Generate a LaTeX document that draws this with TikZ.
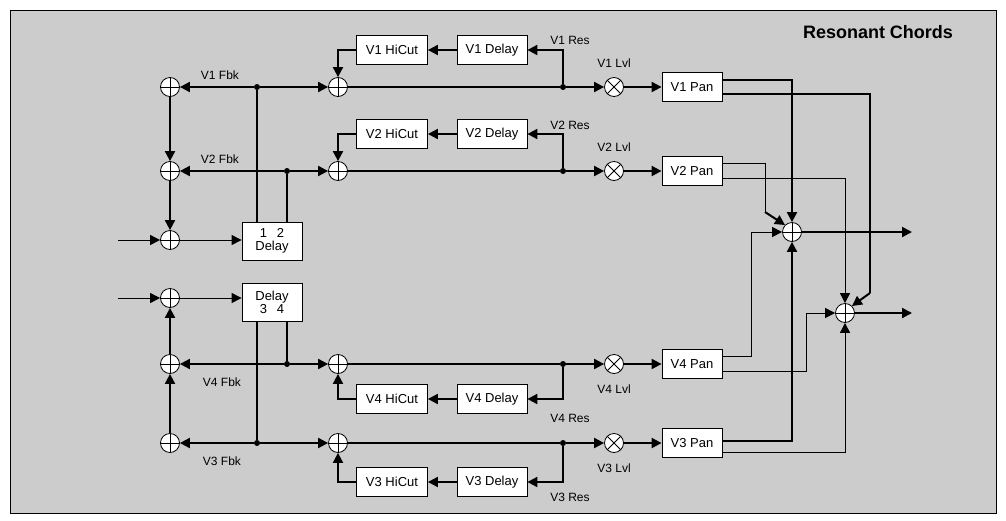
\documentclass[tikz,border=0pt]{standalone}
\usepackage{fontspec}
\setmainfont{Liberation Sans}
\usetikzlibrary{arrows.meta,shapes.misc}
\begin{document}
\begin{tikzpicture}[x=1pt,y=-1pt,
  every node/.style={font=\fontsize{13}{13}\selectfont},
  box/.style={draw,thick,fill=white,minimum height=29pt,inner sep=1pt},
  sum/.style={circle,draw,thick,fill=white,minimum size=19pt,inner sep=0pt,path picture={
     \draw[thick] (path picture bounding box.north) -- (path picture bounding box.south)
                  (path picture bounding box.west) -- (path picture bounding box.east);}},
  mul/.style={circle,draw,thick,fill=white,minimum size=19pt,inner sep=0pt,path picture={
     \draw[thick] (path picture bounding box.north west) -- (path picture bounding box.south east)
                  (path picture bounding box.south west) -- (path picture bounding box.north east);}},
  dot/.style={circle,fill,inner sep=0pt,minimum size=6pt},
  w/.style={line width=2pt},
  thin/.style={line width=1pt},
  ar/.style={-{Triangle[length=10pt,width=10pt]}},
  lbl/.style={inner sep=1pt,font=\fontsize{12}{12}\selectfont}]
\useasboundingbox (0,0) rectangle (1006,520);
\fill[white] (0,0) rectangle (1006,520);
\draw[fill=black!20,thick] (10,10) rectangle (996,513);
\node[font=\bfseries\fontsize{18}{18}\selectfont] at (878,32) {Resonant Chords};

% left sums
\node[sum] (L1) at (170,87) {};
\node[sum] (L2) at (170,171) {};
\node[sum] (L3) at (170,240) {};
\node[sum] (L4) at (170,298) {};
\node[sum] (L5) at (170,364) {};
\node[sum] (L6) at (170,443) {};
\coordinate (in1) at (118,240);
\coordinate (in2) at (118,298);
\draw[thin,ar] (in1) -- (L3);
\draw[thin,ar] (in2) -- (L4);
\draw[w,ar] (L1) -- (L2);
\draw[w,ar] (L2) -- (L3);
\draw[w,ar] (L6) -- (L5);
\draw[w,ar] (L5) -- (L4);

% delay boxes
\node[box,minimum width=60pt,minimum height=38pt,align=center,font=\fontsize{13}{13}\selectfont] (D12) at (272,241) {1\hspace{10pt}2\\Delay};
\node[box,minimum width=60pt,minimum height=38pt,align=center,font=\fontsize{13}{13}\selectfont] (D34) at (272,302) {Delay\\3\hspace{10pt}4};
\draw[thin,ar] (L3) -- (L3 -| D12.west);
\draw[thin,ar] (L4) -- (L4 -| D34.west);

% junctions
\node[dot] (j1) at (257,87) {};
\node[dot] (j2) at (287,171) {};
\node[dot] (j4) at (287,364) {};
\node[dot] (j3) at (257,443) {};
\draw[w] (j1) -- (j1 |- D12.north);
\draw[w] (j2) -- (j2 |- D12.north);
\draw[w] (j4) -- (j4 |- D34.south);
\draw[w] (j3) -- (j3 |- D34.south);
\draw[w,ar] (j1) -- (L1);
\draw[w,ar] (j2) -- (L2);
\draw[w,ar] (j4) -- (L5);
\draw[w,ar] (j3) -- (L6);
\node[lbl] at (220,75) {V1 Fbk};
\node[lbl] at (220,159) {V2 Fbk};
\node[lbl] at (222,382) {V4 Fbk};
\node[lbl] at (222,461) {V3 Fbk};

% voice rows
\foreach \v/\y/\dy/\ry/\lv in {1/87/-37/40/63, 2/171/-37/125/147, 4/364/35/418/389, 3/443/39/497/468}{
  \node[sum] (S\v) at (338,\y) {};
  \node[box,minimum width=71pt] (H\v) at (392,\y+\dy) {V\v\ HiCut};
  \node[box,minimum width=70pt] (Dl\v) at (492,\y+\dy) {V\v\ Delay};
  \node[dot] (t\v) at (563,\y) {};
  \node[mul] (M\v) at (614,\y) {};
  \node[box,minimum width=60pt] (P\v) at (692,\y) {V\v\ Pan};
  \draw[w,ar] (j\v) -- (S\v);
  \draw[w] (S\v) -- (t\v);
  \draw[w,ar] (t\v) -- (M\v);
  \draw[w,ar] (M\v) -- (P\v);
  \draw[w,ar] (t\v) |- (Dl\v);
  \draw[w,ar] (Dl\v) -- (H\v);
  \draw[w,ar] (H\v) -| (S\v);
  \node[lbl] at (570,\ry) {V\v\ Res};
  \node[lbl] at (614,\lv) {V\v\ Lvl};
}

% output sums
\node[sum] (A) at (792,232) {};
\node[sum] (B) at (845,313) {};
\coordinate (oA) at (912,232);
\coordinate (oB) at (912,313);
\draw[w,ar] (A) -- (oA);
\draw[w,ar] (B) -- (oB);

\draw[w,ar] ([yshift=7pt]P1.east) -| (A.north);
\draw[w] ([yshift=-7pt]P1.east) -- (870,94) -- (870,293) coordinate (c1);
\draw[w,ar] (c1) -- (B.north east);
\draw[thin] ([yshift=8pt]P2.east) -- (765,163) -- (765,212) coordinate (c2);
\draw[w,ar] (c2) -- (A.north west);
\draw[thin,ar] ([yshift=-7pt]P2.east) -| (B.north);
\draw[thin,ar] ([yshift=8pt]P4.east) -- (751,356) |- (A.west);
\draw[thin,ar] ([yshift=-7pt]P4.east) -- (806,371) |- (B.west);
\draw[w,ar] ([yshift=2pt]P3.east) -| (A.south);
\draw[thin,ar] ([yshift=-9pt]P3.east) -| (B.south);
\end{tikzpicture}
\end{document}
